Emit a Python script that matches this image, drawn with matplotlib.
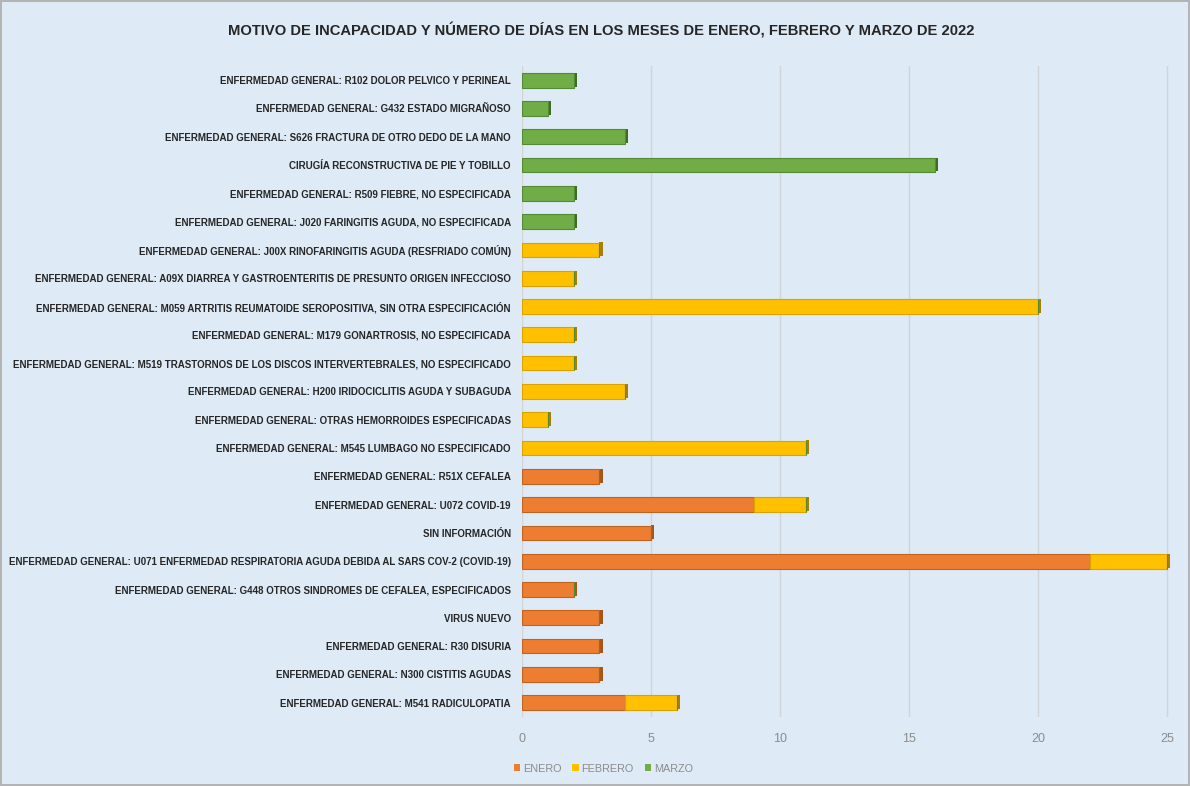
import matplotlib.pyplot as plt
import numpy as np

# datos (de arriba hacia abajo)
categorias = [
    'ENFERMEDAD GENERAL: R102 DOLOR PELVICO Y PERINEAL',
    'ENFERMEDAD GENERAL: G432 ESTADO MIGRAÑOSO',
    'ENFERMEDAD GENERAL: S626 FRACTURA DE OTRO DEDO DE LA MANO',
    'CIRUGÍA RECONSTRUCTIVA DE PIE Y TOBILLO',
    'ENFERMEDAD GENERAL: R509 FIEBRE, NO ESPECIFICADA',
    'ENFERMEDAD GENERAL: J020 FARINGITIS AGUDA, NO ESPECIFICADA',
    'ENFERMEDAD GENERAL: J00X RINOFARINGITIS AGUDA (RESFRIADO COMÚN)',
    'ENFERMEDAD GENERAL: A09X DIARREA Y GASTROENTERITIS DE PRESUNTO ORIGEN INFECCIOSO',
    'ENFERMEDAD GENERAL: M059 ARTRITIS REUMATOIDE SEROPOSITIVA, SIN OTRA ESPECIFICACIÓN',
    'ENFERMEDAD GENERAL: M179 GONARTROSIS, NO ESPECIFICADA',
    'ENFERMEDAD GENERAL: M519 TRASTORNOS DE LOS DISCOS INTERVERTEBRALES, NO ESPECIFICADO',
    'ENFERMEDAD GENERAL: H200 IRIDOCICLITIS AGUDA Y SUBAGUDA',
    'ENFERMEDAD GENERAL: OTRAS HEMORROIDES ESPECIFICADAS',
    'ENFERMEDAD GENERAL: M545 LUMBAGO NO ESPECIFICADO',
    'ENFERMEDAD GENERAL: R51X CEFALEA',
    'ENFERMEDAD GENERAL: U072 COVID-19',
    'SIN INFORMACIÓN',
    'ENFERMEDAD GENERAL: U071 ENFERMEDAD RESPIRATORIA AGUDA DEBIDA AL SARS COV-2 (COVID-19)',
    'ENFERMEDAD GENERAL: G448 OTROS SINDROMES DE CEFALEA, ESPECIFICADOS',
    'VIRUS NUEVO',
    'ENFERMEDAD GENERAL: R30 DISURIA',
    'ENFERMEDAD GENERAL: N300 CISTITIS AGUDAS',
    'ENFERMEDAD GENERAL: M541 RADICULOPATIA',
]
enero =   [0, 0, 0, 0, 0, 0, 0, 0, 0, 0, 0, 0, 0, 0, 3, 9, 5, 22, 2, 3, 3, 3, 4]
febrero = [0, 0, 0, 0, 0, 0, 3, 2, 20, 2, 2, 4, 1, 11, 0, 2, 0, 3, 0, 0, 0, 0, 2]
marzo =   [2, 1, 4, 16, 2, 2, 0, 0, 0, 0, 0, 0, 0, 0, 0, 0, 0, 0, 0, 0, 0, 0, 0]

plt.rcParams['font.family'] = ['Liberation Sans', 'DejaVu Sans']

fondo = '#DEEAF6'
fig = plt.figure(figsize=(11.9, 7.86), dpi=100, facecolor=fondo,
                 edgecolor='#B4B4B4', linewidth=1.5)
ax = fig.add_axes([0.4387, 0.088, 0.5443, 0.828])
ax.set_facecolor(fondo)

y = np.arange(len(categorias))
e = np.array(enero)
f = np.array(febrero)
m = np.array(marzo)
alto = 0.52

series = [('ENERO', e, np.zeros_like(e), '#ED7D31', '#C0631F'),
          ('FEBRERO', f, e, '#FFC000', '#D9A300'),
          ('MARZO', m, e + f, '#70AD47', '#558A35')]
for nombre, val, base, color, borde in series:
    ax.barh(y, val, left=base, height=alto, color=color, edgecolor=borde,
            linewidth=0.8, label=nombre, zorder=3)

# sombra a la derecha de cada barra (efecto 3D del original)
total = e + f + m
ultimo = np.where(m > 0, 2, np.where(f > 0, 1, 0))
sombras = ['#A9531B', '#A87F00', '#3F6B26']
for i in range(len(categorias)):
    ax.barh(y[i] - 0.02, 0.12, left=total[i], height=alto * 0.95, color=sombras[ultimo[i]],
            linewidth=0, zorder=2)

ax.set_ylim(len(categorias) - 0.5, -0.5)
ax.set_xlim(0, 25.1)
ax.set_xticks([0, 5, 10, 15, 20, 25])
ax.set_yticks(y)
ax.set_yticklabels(categorias, fontsize=7.0, fontweight='bold', color='#262626')
ax.tick_params(axis='x', labelsize=9, colors='#8C8C8C', length=0, pad=12)
ax.tick_params(axis='y', length=0, pad=8)
ax.grid(axis='x', color='#D0D5DA', linewidth=1, zorder=0)
for s in ax.spines.values():
    s.set_visible(False)

fig.suptitle('MOTIVO DE INCAPACIDAD Y NÚMERO DE DÍAS EN LOS MESES DE ENERO, FEBRERO Y MARZO DE 2022',
             x=0.505, y=0.972, fontsize=10.6, fontweight='bold', color='#262626')

leg = fig.legend(loc='center', bbox_to_anchor=(0.507, 0.022), ncol=3, frameon=False,
                 fontsize=7.8, handlelength=0.6, handleheight=0.6, handletextpad=0.25,
                 columnspacing=1.0)
for t in leg.get_texts():
    t.set_color('#8C8C8C')
for h in leg.legend_handles:
    h.set_edgecolor('none')

fig.savefig('out.png', dpi=100, facecolor=fondo, edgecolor=fig.get_edgecolor())
